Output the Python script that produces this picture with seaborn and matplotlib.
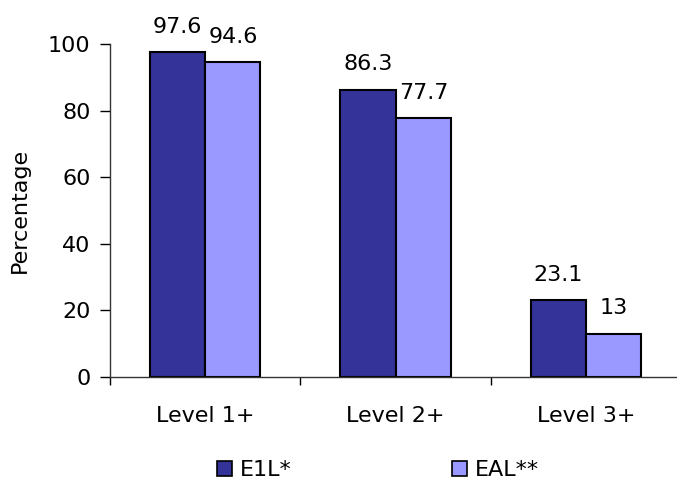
import pandas as pd
import seaborn as sns
import matplotlib.pyplot as plt
from matplotlib.patches import Patch

levels = ['Level 1+', 'Level 2+', 'Level 3+']
groups = ['E1L*', 'EAL**']
e1l = [97.6, 86.3, 23.1]
eal = [94.6, 77.7, 13]
colors = ['#333399', '#9999FF']

df = pd.DataFrame({
    'level': levels * 2,
    'group': [groups[0]] * 3 + [groups[1]] * 3,
    'pct': e1l + eal,
})

sns.set_style('ticks')
plt.rcParams['font.family'] = ['DejaVu Sans']
plt.rcParams['font.size'] = 16
for k in ['text.color', 'axes.labelcolor', 'xtick.color', 'ytick.color']:
    plt.rcParams[k] = 'black'

fig = plt.figure(figsize=(6.77, 4.83), dpi=100)
ax = fig.add_axes([0.1625, 0.2195, 0.844, 0.6895])

sns.barplot(data=df, x='level', y='pct', hue='group', palette=colors,
            width=0.58, edgecolor='black', linewidth=1.5, ax=ax,
            legend=False, saturation=1)

for cont in ax.containers:
    ax.bar_label(cont, labels=[f'{b.get_height():g}' for b in cont],
                 padding=11, fontsize=16)

ax.set_ylim(0, 100)
ax.set_xlim(-0.5, 2.5)
ax.set_yticks([0, 20, 40, 60, 80, 100])
ax.tick_params(axis='y', length=7, width=1, pad=7, labelsize=16)
ax.set_xticks([-0.5, 0.5, 1.5, 2.5], minor=True)
ax.tick_params(axis='x', which='major', length=0, pad=21, labelsize=16)
ax.tick_params(axis='x', which='minor', length=6, width=1)
ax.set_xlabel('')
ax.set_ylabel('Percentage', fontsize=16)
ax.yaxis.set_label_coords(-0.14, 0.5)

for s in ['top', 'right']:
    ax.spines[s].set_visible(False)
for s in ['left', 'bottom']:
    ax.spines[s].set_color('#333333')
    ax.spines[s].set_linewidth(1)

handles = [Patch(facecolor=c, edgecolor='black', linewidth=1.2) for c in colors]
fig.legend(handles, groups, loc='center left', bbox_to_anchor=(0.32, 0.026),
           ncol=2, frameon=False, fontsize=16, handlelength=0.7,
           handleheight=0.7, handletextpad=0.35, columnspacing=7.2,
           borderaxespad=0, borderpad=0)

fig.savefig('out.png', dpi=100)
